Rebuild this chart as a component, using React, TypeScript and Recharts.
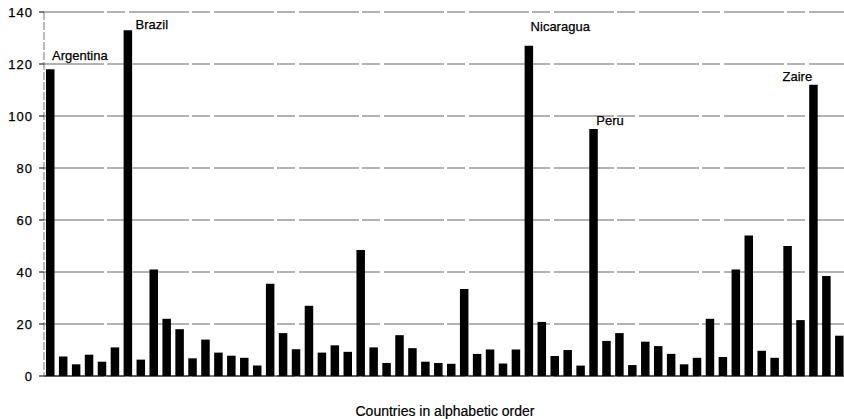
import React from 'react';
import { BarChart, Bar, XAxis, YAxis, CartesianGrid, LabelList, Label } from 'recharts';

// Values per country (alphabetic order)
const values: number[] = [
  118, 7.5, 4.5, 8.2, 5.5, 11, 133, 6.3, 41, 22,
  18, 6.8, 14, 9, 7.8, 7, 4, 35.5, 16.5, 10.3,
  27, 9, 11.8, 9.3, 48.5, 11, 5, 15.7, 10.7, 5.5,
  5, 4.7, 33.5, 8.5, 10.2, 4.8, 10.2, 127, 20.8, 7.7,
  10, 4, 95, 13.5, 16.5, 4.2, 13.2, 11.5, 8.5, 4.5,
  7, 22, 7.3, 41, 54, 9.7, 7, 50, 21.5, 112,
  38.5, 15.5,
];

// Named countries (others unnamed in the reference)
const namedCountries: { [index: number]: string } = {
  0: 'Argentina',
  6: 'Brazil',
  37: 'Nicaragua',
  42: 'Peru',
  59: 'Zaire',
};

const yTicks: number[] = [0, 20, 40, 60, 80, 100, 120, 140];
const xTitle = 'Countries in alphabetic order';

const data = values.map((v, i) => ({
  name: namedCountries[i] ?? `Country ${i + 1}`,
  value: v,
  label: namedCountries[i] ?? '',
}));

// label placement style relative to bar left / bar top
const labelStyle: { [name: string]: { dx: number; dy: number; anchor: 'start' | 'end' } } = {
  Argentina: { dx: 6, dy: -9, anchor: 'start' },
  Brazil: { dx: 12, dy: -1, anchor: 'start' },
  Nicaragua: { dx: 6, dy: -15, anchor: 'start' },
  Peru: { dx: 7, dy: -4, anchor: 'start' },
  Zaire: { dx: 3, dy: -4, anchor: 'end' },
};

const FONT = '"Liberation Sans", Arial, Helvetica, sans-serif';

const renderLabel = (props: any) => {
  const { x, y, value } = props;
  if (!value) return null;
  const s = labelStyle[value];
  if (!s) return null;
  return (
    <text
      x={Number(x) + s.dx}
      y={Number(y) + s.dy}
      textAnchor={s.anchor}
      fontFamily={FONT}
      fontSize={13}
      fill="#000"
      stroke="#000"
      strokeWidth={0.25}
    >
      {value}
    </text>
  );
};

export default function App() {
  return (
    <div
      style={{
        position: 'absolute',
        left: 0,
        top: 0,
        width: 844,
        height: 419,
        overflow: 'hidden',
        background: '#fff',
      }}
    >
      <BarChart
        width={846}
        height={419}
        data={data}
        margin={{ top: 12, right: 0, left: 0, bottom: 0 }}
        barSize={8.5}
      >
        <CartesianGrid vertical={false} stroke="#666" strokeDasharray="60 3 18 4" />
        <XAxis
          dataKey="name"
          tick={false}
          tickLine={false}
          axisLine={{ stroke: '#000', strokeWidth: 1.2 }}
          height={43}
          interval={0}
        >
          <Label
            value={xTitle}
            position="insideBottom"
            offset={3}
            style={{ fontFamily: FONT, fontSize: 14, fill: '#000', stroke: '#000', strokeWidth: 0.2 }}
          />
        </XAxis>
        <YAxis
          domain={[0, 140]}
          ticks={yTicks}
          interval={0}
          width={44}
          tickSize={5}
          tickMargin={6}
          axisLine={{ stroke: '#777', strokeDasharray: '8 2' }}
          tickLine={{ stroke: '#000' }}
          tick={{ fontFamily: FONT, fontSize: 13, fill: '#000', letterSpacing: 1, stroke: '#000', strokeWidth: 0.25 }}
        />
        <Bar dataKey="value" fill="#000" isAnimationActive={false}>
          <LabelList dataKey="label" content={renderLabel} />
        </Bar>
      </BarChart>
    </div>
  );
}
